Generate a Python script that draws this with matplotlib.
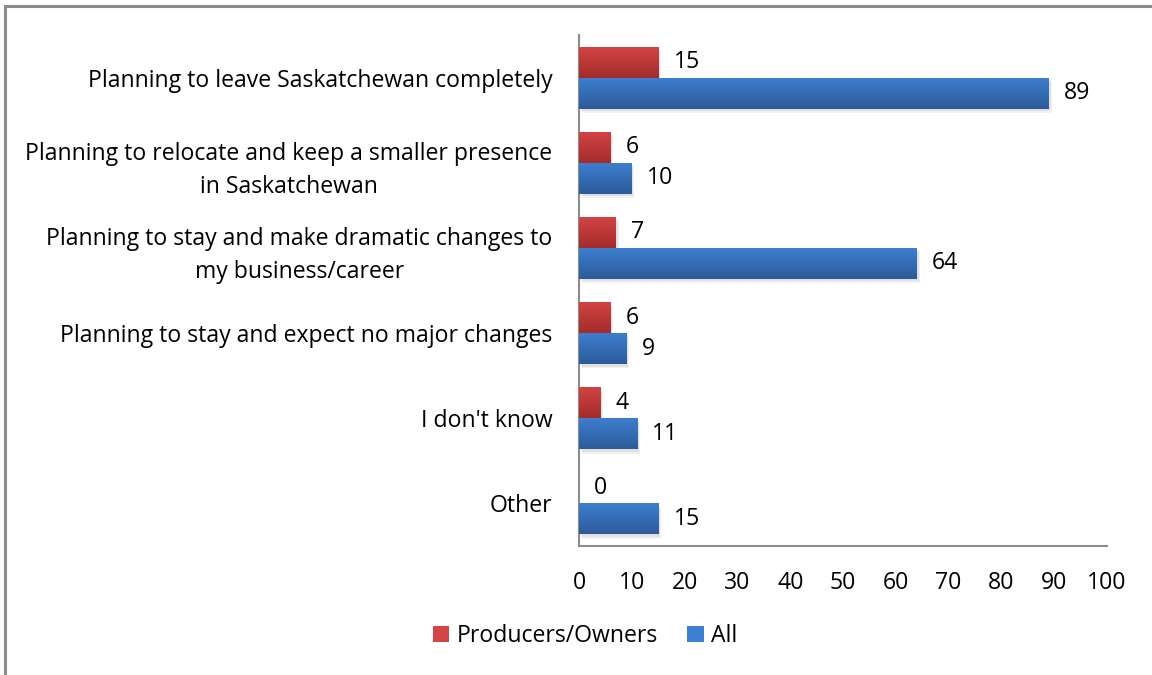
import matplotlib
matplotlib.use("Agg")
import matplotlib.pyplot as plt
import numpy as np
from matplotlib.colors import LinearSegmentedColormap
from matplotlib.patches import Rectangle, Patch

categories = [
    "Planning to leave Saskatchewan completely",
    "Planning to relocate and keep a smaller presence\nin Saskatchewan",
    "Planning to stay and make dramatic changes to\nmy business/career",
    "Planning to stay and expect no major changes",
    "I don't know",
    "Other",
]
producers = [15, 6, 7, 6, 4, 0]
all_vals = [89, 10, 64, 9, 11, 15]
series_names = ["Producers/Owners", "All"]
xticks = [0, 10, 20, 30, 40, 50, 60, 70, 80, 90, 100]

plt.rcParams['font.family'] = ['Open Sans', 'DejaVu Sans']
FS = 16.6

fig = plt.figure(figsize=(11.52, 6.75), dpi=100)
ax = fig.add_axes([579/1152, 1 - 546/675, (1107-579)/1152, (546-35)/675])

# outer frame (left and top visible)
fig.patches.append(Rectangle((4.5/1152, -0.1), 1.2, 1 - 5.5/675 + 0.1, transform=fig.transFigure,
                             fill=False, edgecolor='#8c8c8c', linewidth=2.2))

y = np.arange(len(categories))
h = 0.364
red_c = ['#d44444', '#a42c2c']
blue_c = ['#3d7fd0', '#2d5b9a']

b1 = ax.barh(y - h/2, producers, height=h, color=red_c[0], label=series_names[0], zorder=3)
b2 = ax.barh(y + h/2, all_vals, height=h, color=blue_c[0], label=series_names[1], zorder=3)

grad = np.linspace(0, 1, 64).reshape(-1, 1)
for bars, cols in ((b1, red_c), (b2, blue_c)):
    cmap = LinearSegmentedColormap.from_list('g', cols)
    for p in bars:
        x0, y0 = p.get_x(), p.get_y()
        w, hh = p.get_width(), p.get_height()
        if w <= 0:
            continue
        # soft shadow
        for k, a in ((0.5, 0.05), (0.3, 0.07)):
            ax.add_patch(Rectangle((x0 + k, y0 + k * 0.1), w, hh, facecolor='#000000', alpha=a,
                                   edgecolor='none', zorder=2))
        im = ax.imshow(grad, cmap=cmap, extent=(x0, x0 + w, y0 + hh, y0), aspect='auto',
                       origin='upper', zorder=3.5)
        im.set_clip_path(p)

for bars, vals in ((b1, producers), (b2, all_vals)):
    for p, v in zip(bars, vals):
        ax.text(p.get_width() + 2.9, p.get_y() + p.get_height()/2, str(v),
                va='center', ha='left', fontsize=FS, color='black', zorder=5)

ax.set_xlim(0, 100)
ax.set_ylim(len(categories) - 0.5, -0.5)
ax.set_xticks(xticks)
ax.set_xticklabels([str(t) for t in xticks], fontsize=FS)
ax.set_yticks(y)
ax.set_yticklabels(categories, fontsize=FS, multialignment='center', linespacing=1.5)
ax.tick_params(axis='both', length=0)
ax.tick_params(axis='y', pad=19)
ax.tick_params(axis='x', pad=18)
for s in ['top', 'right']:
    ax.spines[s].set_visible(False)
for s in ['left', 'bottom']:
    ax.spines[s].set_color('#8c8c8c')
    ax.spines[s].set_linewidth(1.5)

handles = [Patch(facecolor=red_c[0], edgecolor='none'), Patch(facecolor=blue_c[0], edgecolor='none')]
fig.legend(handles, series_names, loc='center', bbox_to_anchor=(585/1152, 1 - 636/675), ncol=2,
           frameon=False, fontsize=FS, handlelength=0.7, handleheight=0.7, handletextpad=0.3,
           columnspacing=1.3)

fig.savefig('out.png', dpi=100, facecolor='white')
